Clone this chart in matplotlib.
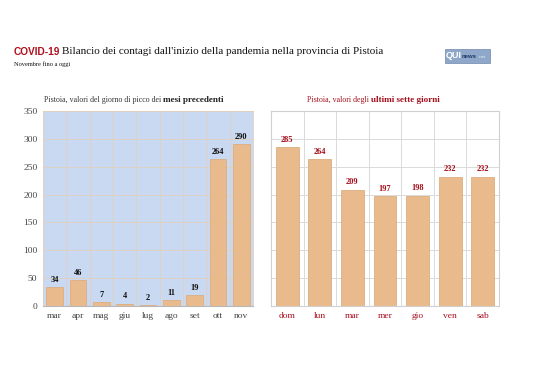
import matplotlib
matplotlib.use("Agg")
import matplotlib.pyplot as plt
from matplotlib.patches import Rectangle

months = ["mar", "apr", "mag", "giu", "lug", "ago", "set", "ott", "nov"]
month_vals = [34, 46, 7, 4, 2, 11, 19, 264, 290]
days = ["dom", "lun", "mar", "mer", "gio", "ven", "sab"]
day_vals = [285, 264, 209, 197, 198, 232, 232]
yticks = [0, 50, 100, 150, 200, 250, 300, 350]

W, H = 538, 380
fig = plt.figure(figsize=(W / 100, H / 100), dpi=100)
serif = "Liberation Serif"
bar_c = "#e8ba8c"
bar_e = "#dcae80"
red = "#a50f1c"
grid_tan = "#e0d0bc"

def fx(px): return px / W
def fy(py): return 1 - py / H

# left axes
axL = fig.add_axes([fx(43), fy(306), fx(253 - 43), (306 - 111) / H])
axL.set_facecolor("#c9d9f1")
xl = range(len(months))
axL.bar(xl, month_vals, width=0.72, color=bar_c, edgecolor=bar_e, linewidth=0.6, zorder=3)
axL.set_xlim(-0.5, len(months) - 0.5)
axL.set_ylim(0, 350)
axL.set_yticks(yticks)
axL.set_yticklabels([str(t) for t in yticks], fontfamily=serif, fontsize=6.8, color="#444444")
axL.set_xticks(list(xl))
axL.set_xticklabels(months, fontfamily=serif, fontsize=6.8, color="#444444")
for b in [i + 0.5 for i in range(len(months) - 1)]:
    axL.axvline(b, color=grid_tan, lw=0.6, zorder=1)
for t in yticks[1:]:
    axL.axhline(t, color=grid_tan, lw=0.6, zorder=1)
axL.tick_params(axis="both", length=0, pad=4)
for s in ["top", "right", "left"]:
    axL.spines[s].set_color(grid_tan)
    axL.spines[s].set_linewidth(0.6)
axL.spines["bottom"].set_color("#b8b8b8")
axL.spines["bottom"].set_linewidth(0.8)
for i, v in enumerate(month_vals):
    axL.text(i, v + 6, str(v), ha="center", va="bottom", fontsize=6,
             fontweight="bold", fontfamily=serif, color="#111111", zorder=4)

# right axes
axR = fig.add_axes([fx(271), fy(306), fx(499 - 271), (306 - 111) / H])
axR.set_facecolor("white")
xr = range(len(days))
axR.bar(xr, day_vals, width=0.7, color=bar_c, edgecolor=bar_e, linewidth=0.6, zorder=3)
axR.set_xlim(-0.5, len(days) - 0.5)
axR.set_ylim(0, 350)
axR.set_yticks(yticks)
axR.set_yticklabels([])
axR.set_xticks(list(xr))
axR.set_xticklabels(days, fontfamily=serif, fontsize=6.8, color=red)
for b in [i + 0.5 for i in range(len(days) - 1)]:
    axR.axvline(b, color="#dadada", lw=0.7, zorder=1)
for t in yticks[1:]:
    axR.axhline(t, color="#dadada", lw=0.7, zorder=1)
axR.tick_params(axis="both", length=0, pad=4)
for s in ["top", "right", "left", "bottom"]:
    axR.spines[s].set_color("#d0d0d0")
    axR.spines[s].set_linewidth(0.8)
for i, v in enumerate(day_vals):
    axR.text(i, v + 6, str(v), ha="center", va="bottom", fontsize=6,
             fontweight="bold", fontfamily=serif, color=red, zorder=4)

# panel titles
fig.text(fx(163), fy(100), "Pistoia, valori del giorno di picco dei ", ha="right", va="center",
         fontsize=5.7, fontfamily=serif, color="#333333")
fig.text(fx(163), fy(100), "mesi precedenti", ha="left", va="center",
         fontsize=6.6, fontfamily=serif, fontweight="bold", color="#222222")
fig.text(fx(371), fy(100), "Pistoia, valori degli ", ha="right", va="center",
         fontsize=5.7, fontfamily=serif, color=red)
fig.text(fx(371), fy(100), "ultimi sette giorni", ha="left", va="center",
         fontsize=6.6, fontfamily=serif, fontweight="bold", color=red)

# main title
fig.text(fx(14), fy(52), "COVID-19", ha="left", va="center", fontsize=7.3,
         fontfamily="Liberation Sans", fontweight="bold", color="#b0101c")
fig.text(fx(62), fy(52), "Bilancio dei contagi dall'inizio della pandemia nella provincia di Pistoia",
         ha="left", va="center", fontsize=8.0, fontfamily=serif, color="#111111")
fig.text(fx(14), fy(64), "Novembre fino a oggi", ha="left", va="center", fontsize=4.6,
         fontfamily=serif, color="#111111")

# logo
fig.patches.append(Rectangle((fx(445), fy(63)), fx(45), 14 / H, transform=fig.transFigure,
                             facecolor="#8fa7c9", edgecolor="#6f87ab", lw=0.5))
fig.text(fx(446), fy(56), "QUI", ha="left", va="center", fontsize=6.5, fontweight="bold",
         fontfamily="Liberation Sans", color="white")
fig.text(fx(462), fy(57), "news", ha="left", va="center", fontsize=4.3, fontweight="bold",
         fontfamily="Liberation Sans", color="#1d3a6a")
fig.text(fx(478.5), fy(57.5), ".net", ha="left", va="center", fontsize=3.2,
         fontfamily="Liberation Sans", color="#e8eef7")

fig.savefig("out.png", dpi=100)
